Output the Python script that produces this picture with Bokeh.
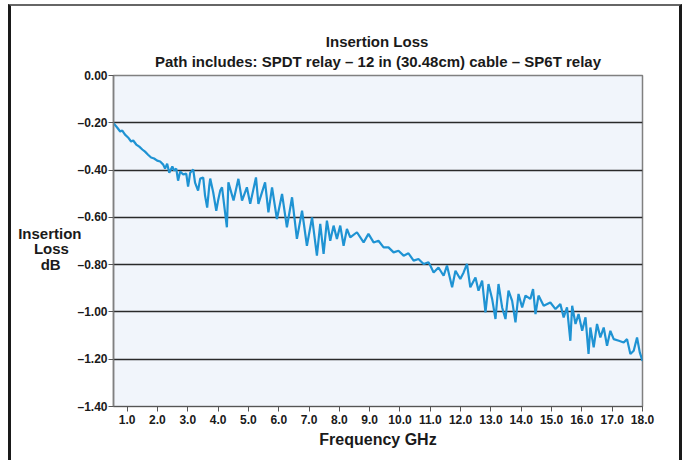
from bokeh.plotting import figure
from bokeh.models import FixedTicker, Title
from bokeh.embed import file_html
from bokeh.resources import INLINE

# ---- data ----
freq_a = [0.55, 0.67, 0.77, 0.84, 0.93, 1.03, 1.13, 1.20, 1.30, 1.40, 1.50, 1.59, 1.69, 1.79, 1.89,
          1.99, 2.09, 2.19, 2.25, 2.32, 2.39, 2.49, 2.55, 2.62, 2.68, 2.75, 2.85, 2.95, 3.01, 3.08,
          3.18, 3.24, 3.34, 3.41, 3.51, 3.57, 3.64, 3.71, 3.74, 3.84, 3.94, 4.00, 4.07]
loss_a = [-0.202, -0.220, -0.237, -0.233, -0.250, -0.262, -0.279, -0.275, -0.292, -0.301, -0.313,
          -0.322, -0.335, -0.347, -0.351, -0.360, -0.364, -0.377, -0.394, -0.373, -0.411, -0.385,
          -0.402, -0.394, -0.445, -0.406, -0.419, -0.415, -0.470, -0.411, -0.398, -0.453, -0.487,
          -0.436, -0.432, -0.508, -0.559, -0.466, -0.436, -0.495, -0.572, -0.529, -0.487]

freq_b = [4.13, 4.29, 4.34, 4.51, 4.67, 4.79, 4.95, 5.06, 5.25, 5.33, 5.55, 5.66, 5.78, 5.94,
          6.11, 6.27, 6.44, 6.60, 6.77, 6.93, 7.10, 7.26, 7.37, 7.48]
loss_b = [-0.473, -0.642, -0.452, -0.529, -0.437, -0.529, -0.473, -0.543, -0.431, -0.543, -0.452,
          -0.579, -0.473, -0.607, -0.501, -0.642, -0.515, -0.691, -0.572, -0.720, -0.600, -0.762,
          -0.628, -0.755]

freq_c = [7.59, 7.70, 7.81, 7.92, 8.03, 8.14, 8.25, 8.36, 8.58, 8.80, 8.96, 9.13, 9.29, 9.46,
          9.62, 9.79, 9.95, 10.12, 10.28, 10.45, 10.61, 10.78, 10.94]
loss_c = [-0.614, -0.699, -0.635, -0.691, -0.635, -0.720, -0.649, -0.685, -0.663, -0.706, -0.670,
          -0.706, -0.699, -0.727, -0.727, -0.748, -0.741, -0.762, -0.752, -0.783, -0.776, -0.797,
          -0.790]

freq_d = [11.00, 11.11, 11.27, 11.44, 11.55, 11.72, 11.83, 11.99, 12.10, 12.21, 12.32, 12.49,
          12.59, 12.71, 12.82, 12.92, 13.04, 13.15, 13.25, 13.37, 13.48, 13.58, 13.70, 13.81,
          13.91, 14.03, 14.14, 14.30]
loss_d = [-0.804, -0.833, -0.812, -0.847, -0.804, -0.896, -0.826, -0.861, -0.833, -0.797, -0.896,
          -0.854, -0.910, -0.868, -1.002, -0.882, -0.945, -1.030, -0.882, -0.981, -1.030, -0.910,
          -0.953, -1.044, -0.924, -0.981, -0.931, -0.945]

freq_e = [14.39, 14.47, 14.57, 14.74, 14.96, 15.13, 15.29, 15.40, 15.51, 15.62, 15.68, 15.79,
          15.89, 16.01, 16.12, 16.22, 16.28, 16.39, 16.50, 16.61, 16.72, 16.83, 16.94, 17.05,
          17.22, 17.38, 17.49, 17.60, 17.71, 17.82, 17.91, 18.00]
loss_e = [-0.903, -1.009, -0.931, -0.974, -0.960, -0.988, -0.967, -1.023, -0.981, -1.122, -0.974,
          -1.051, -1.009, -1.080, -1.023, -1.178, -1.066, -1.150, -1.051, -1.108, -1.066, -1.143,
          -1.080, -1.115, -1.122, -1.129, -1.115, -1.178, -1.164, -1.108, -1.171, -1.207]

x_ticks = [1.0, 2.0, 3.0, 4.0, 5.0, 6.0, 7.0, 8.0, 9.0, 10.0, 11.0, 12.0, 13.0, 14.0, 15.0, 16.0, 17.0, 18.0]
x_tick_labels = ["1.0", "2.0", "3.0", "4.0", "5.0", "6.0", "7.0", "8.0", "9.0", "10.0", "11.0",
                 "12.0", "13.0", "14.0", "15.0", "16.0", "17.0", "18.0"]
y_ticks = [0.0, -0.2, -0.4, -0.6, -0.8, -1.0, -1.2, -1.4]
y_tick_labels = ["0.00", "\u20130.20", "\u20130.40", "\u20130.60", "\u20130.80", "\u20131.00",
                 "\u20131.20", "\u20131.40"]

title_text = "Insertion Loss"
subtitle_text = "Path includes: SPDT relay \u2013 12 in (30.48cm) cable \u2013 SP6T relay"
x_label = "Frequency GHz"
y_label_lines = ["Insertion", "Loss", "dB"]

freq_ghz = freq_a + freq_b + freq_c + freq_d + freq_e
loss_db = loss_a + loss_b + loss_c + loss_d + loss_e

FONT = "Liberation Sans"
INK = "#1a1a1a"
NB = "\u00a0"

# lines of the y caption are drawn right-aligned by Bokeh; pad with no-break
# spaces so that they appear centred, plus a blank first line to drop the block
y_label = "\n".join([NB, y_label_lines[0], y_label_lines[1] + NB * 3, y_label_lines[2] + NB * 5])

# two-line title: lines are drawn left-aligned, so pad the short first line to centre it
title_block = NB * 41 + title_text + "\n" + subtitle_text

p = figure(width=674, height=456, output_backend="svg", toolbar_location=None,
           x_range=(0.55, 18.0), y_range=(-1.4, 0.0), title=None,
           min_border_left=102, min_border_right=43, min_border_top=69, min_border_bottom=56)

p.styles = {"margin-left": "8px", "margin-top": "4px",
            "border-left": "3px solid #1a1a1a", "border-top": "2px solid #666666",
            "border-right": "3px solid #1a1a1a"}

p.background_fill_color = "#f1f5fb"
p.border_fill_color = "white"
p.outline_line_color = "#808080"
p.outline_line_width = 1.5

p.add_layout(Title(text=title_block, align="center", text_font=FONT, text_font_size="15px",
                   text_font_style="bold", text_color=INK, standoff=10,
                   text_line_height=1.2), "above")

p.line(freq_ghz, loss_db, line_color="#1f93d3", line_width=2.2)

p.xgrid.visible = False
p.ygrid.ticker = FixedTicker(ticks=y_ticks)
p.ygrid.grid_line_color = "#2a2a2a"
p.ygrid.grid_line_width = 1.5

xa = p.xaxis[0]
xa.ticker = FixedTicker(ticks=x_ticks)
xa.major_label_overrides = {t: s for t, s in zip(x_ticks, x_tick_labels)}
xa.axis_label = x_label
xa.axis_label_text_font = FONT
xa.axis_label_text_font_size = "16px"
xa.axis_label_text_font_style = "bold"
xa.axis_label_text_color = INK
xa.axis_label_standoff = 4
xa.major_label_text_font = FONT
xa.major_label_text_font_size = "12px"
xa.major_label_text_font_style = "bold"
xa.major_label_text_color = INK
xa.major_label_standoff = 3
xa.major_tick_out = 5
xa.major_tick_in = 0
xa.minor_tick_out = 0
xa.minor_tick_in = 0
xa.axis_line_color = "#555555"
xa.major_tick_line_color = "#555555"

ya = p.yaxis[0]
ya.ticker = FixedTicker(ticks=y_ticks)
ya.major_label_overrides = {t: s for t, s in zip(y_ticks, y_tick_labels)}
ya.axis_label = y_label
ya.axis_label_orientation = "horizontal"
ya.axis_label_standoff = -7
ya.axis_label_text_font = FONT
ya.axis_label_text_font_size = "15px"
ya.axis_label_text_font_style = "bold"
ya.axis_label_text_color = INK
ya.axis_label_text_line_height = 0.93
ya.major_label_text_font = FONT
ya.major_label_text_font_size = "12px"
ya.major_label_text_font_style = "bold"
ya.major_label_text_color = INK
ya.major_label_standoff = 1
ya.major_tick_out = 5
ya.major_tick_in = 0
ya.minor_tick_out = 0
ya.minor_tick_in = 0
ya.axis_line_color = "#808080"
ya.axis_line_width = 1.5
ya.major_tick_line_color = "#555555"

open("out.html", "w").write(file_html(p, INLINE))
